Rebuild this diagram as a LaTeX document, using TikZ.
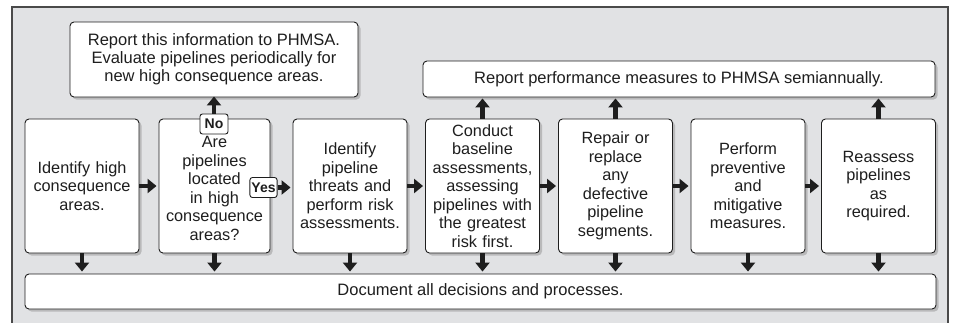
\documentclass[tikz,border=0pt]{standalone}
\usepackage{fontspec}
\setmainfont{Liberation Sans}
\usetikzlibrary{arrows.meta,shadows}
\definecolor{panelgray}{HTML}{E1E2E4}
\definecolor{framegray}{HTML}{4A4A4A}
\definecolor{inkgray}{HTML}{1E1E1E}
\begin{document}
\begin{tikzpicture}[x=1pt,y=-1pt,text=inkgray]
        % Styles
        \tikzstyle{boxshadow}=[drop shadow={shadow xshift=2.5pt,shadow yshift=-2.5pt,fill=black!40,opacity=0.55}]
        \tikzstyle{stagebox}=[draw=inkgray,fill=white,line width=0.9pt,rounded corners=4pt,boxshadow,
            minimum width=114pt,minimum height=134pt,text width=108pt,align=center,inner sep=0pt,
            font=\fontsize{16.3}{18.5}\selectfont]
        \tikzstyle{widebox}=[stagebox,minimum height=35pt,text width=,font=\fontsize{16.5}{18}\selectfont]
        \tikzstyle{answer tag}=[draw=inkgray,fill=white,line width=0.9pt,rounded corners=2.5pt,inner sep=1.5pt,
            minimum width=27pt,minimum height=20pt,font=\bfseries\fontsize{14}{14}\selectfont]
        \tikzstyle{block arrow}=[draw=inkgray,line width=4.5pt,-{Triangle[width=14pt,length=9pt]}]
        %The graphic
        \useasboundingbox (0,0) rectangle (953,322);
        \clip (0,0) rectangle (953,322);
        %panel
        \draw[fill=panelgray,draw=framegray,line width=1.3pt] (12,7) rectangle (948,345);
        %report boxes
        \node[widebox,minimum width=288pt,minimum height=75pt] (hcareport) at (214,59.5)
            {Report this information to PHMSA.\\Evaluate pipelines periodically for\\new high consequence areas.};
        \node[widebox,minimum width=512pt,minimum height=36pt] (perfreport) at (679,79)
            {Report performance measures to PHMSA semiannually.};
        \node[widebox,minimum width=911pt] (document) at (480.5,291.5)
            {Document all decisions and processes.};
        %process steps
        \node[stagebox] (identify) at (82,186) {Identify high\\consequence\\areas.};
        \node[stagebox,minimum width=111pt] (located) at (214.5,186)
            {\\[-2pt]Are\\pipelines\\located\\in high\\consequence\\areas?};
        \node[stagebox] (threats) at (350,186) {Identify\\pipeline\\threats and\\perform risk\\assessments.};
        \node[stagebox] (baseline) at (482.5,186)
            {Conduct\\baseline\\assessments,\\assessing\\pipelines with\\the greatest\\risk first.};
        \node[stagebox] (repair) at (615.5,186) {Repair or\\replace\\any\\defective\\pipeline\\segments.};
        \node[stagebox] (prevent) at (748,186) {Perform\\preventive\\and\\mitigative\\measures.};
        \node[stagebox] (reassess) at (878.5,186) {Reassess\\pipelines\\as\\required.};
        %answers
        \node[answer tag,minimum width=28pt] (no) at (214,124) {No};
        \node[answer tag] (yes) at (263.5,187.5) {Yes};
        %arrows
        \draw[block arrow] (no.north) -- ([yshift=1pt]hcareport.south);
        \draw[block arrow,shorten >=2pt] (identify.east) -- (located.west);
        \draw[block arrow,shorten >=2pt] (yes.east) -- (yes.east -| threats.west);
        \foreach \from/\to in {threats/baseline,baseline/repair,repair/prevent,prevent/reassess}
            \draw[block arrow,shorten >=2pt] (\from.east) -- (\to.west);
        \foreach \step in {baseline,repair,reassess}
            \draw[block arrow,shorten >=1pt] (\step.north) -- (\step.north |- perfreport.south);
        \foreach \step in {identify,located,threats,baseline,repair,prevent,reassess}
            \draw[block arrow,shorten >=2pt] (\step.south) -- (\step.south |- document.north);
    \end{tikzpicture}
\end{document}
